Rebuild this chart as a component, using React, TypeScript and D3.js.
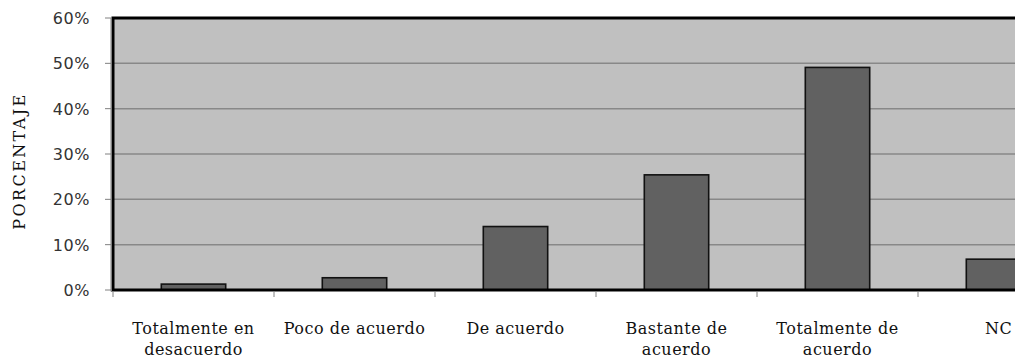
import React from "react";
import * as d3 from "d3";

// Survey answers and their share of responses (percent)
const categories = [
  "Totalmente en desacuerdo",
  "Poco de acuerdo",
  "De acuerdo",
  "Bastante de acuerdo",
  "Totalmente de acuerdo",
  "NC",
];
const labelLines = [
  ["Totalmente en", "desacuerdo"],
  ["Poco de acuerdo"],
  ["De acuerdo"],
  ["Bastante de", "acuerdo"],
  ["Totalmente de", "acuerdo"],
  ["NC"],
];
const values = [1.3, 2.7, 14.0, 25.4, 49.1, 6.8];
const yTicks = [0, 10, 20, 30, 40, 50, 60];
const yTitle = "PORCENTAJE";

const W = 1015;
const H = 361;
const plot = { left: 113, right: 1079, top: 18, bottom: 290 };

export default function App() {
  const x = d3
    .scaleBand<string>()
    .domain(categories)
    .range([plot.left, plot.right])
    .paddingInner(0.6)
    .paddingOuter(0.3);
  const band = d3.scaleBand<string>().domain(categories).range([plot.left, plot.right]);
  const y = d3.scaleLinear().domain([0, 60]).range([plot.bottom, plot.top]);

  const sans = "'DejaVu Sans', sans-serif";
  const serif = "'DejaVu Serif', serif";

  return (
    <svg
      width={W}
      height={H}
      style={{ position: "absolute", left: 0, top: 0, display: "block", background: "#fff" }}
    >
      {/* plot background */}
      <rect
        x={plot.left}
        y={plot.top}
        width={plot.right - plot.left}
        height={plot.bottom - plot.top}
        fill="#c0c0c0"
      />
      {/* gridlines */}
      {yTicks.slice(1).map((t) => (
        <line
          key={"g" + t}
          x1={plot.left}
          x2={plot.right}
          y1={y(t)}
          y2={y(t)}
          stroke="#888"
          strokeWidth={1.5}
        />
      ))}
      {/* bars */}
      {categories.map((c, i) => (
        <rect
          key={c}
          x={x(c)}
          y={y(values[i])}
          width={x.bandwidth()}
          height={y(0) - y(values[i])}
          fill="#616161"
          stroke="#111"
          strokeWidth={1.6}
        />
      ))}
      {/* plot frame */}
      <rect
        x={plot.left}
        y={plot.top}
        width={plot.right - plot.left}
        height={plot.bottom - plot.top}
        fill="none"
        stroke="#000"
        strokeWidth={3}
      />
      {/* y axis */}
      <line x1={111} x2={111} y1={plot.top} y2={plot.bottom + 1.5} stroke="#808080" strokeWidth={1} />
      {yTicks.map((t) => (
        <g key={"t" + t}>
          <line x1={105} x2={111} y1={y(t)} y2={y(t)} stroke="#808080" strokeWidth={1} />
          <text
            x={90}
            y={y(t)}
            dy="0.38em"
            textAnchor="end"
            fontFamily={sans}
            fontSize={16}
            letterSpacing={0.6}
            fill="#333"
          >
            {t + "%"}
          </text>
        </g>
      ))}
      {/* x axis */}
      <line
        x1={plot.left - 2}
        x2={plot.right}
        y1={plot.bottom + 1.5}
        y2={plot.bottom + 1.5}
        stroke="#808080"
        strokeWidth={1.2}
      />
      {categories.map((c) => (
        <line
          key={"xt" + c}
          x1={band(c)}
          x2={band(c)}
          y1={plot.bottom + 1.5}
          y2={plot.bottom + 7}
          stroke="#808080"
          strokeWidth={1}
        />
      ))}
      {categories.map((c, i) => (
        <text
          key={"l" + c}
          x={(band(c) as number) + band.bandwidth() / 2}
          y={334}
          textAnchor="middle"
          fontFamily={serif}
          fontSize={16}
          fill="#111"
          letterSpacing={0.5}
        >
          {labelLines[i].map((ln, k) => (
            <tspan key={k} x={(band(c) as number) + band.bandwidth() / 2} dy={k === 0 ? 0 : 21}>
              {ln}
            </tspan>
          ))}
        </text>
      ))}
      {/* y axis title */}
      <text
        transform={`translate(25, ${(plot.top + plot.bottom) / 2 + 7}) rotate(-90)`}
        textAnchor="middle"
        fontFamily={serif}
        fontSize={16}
        letterSpacing={2.4}
        fill="#111"
      >
        {yTitle}
      </text>
    </svg>
  );
}
